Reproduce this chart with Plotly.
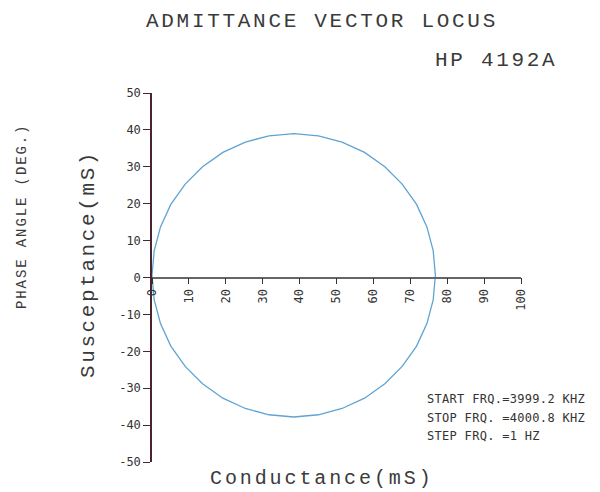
import plotly.graph_objects as go

# Admittance locus (mS)
conductance = [76.8, 76.2, 74.5, 71.7, 67.8, 63.1, 57.6, 51.5, 45.1, 38.4,
               31.7, 25.3, 19.2, 13.7, 9.0, 5.1, 2.3, 0.6, 0.0,
               0.6, 2.3, 5.1, 9.0, 13.7, 19.2, 25.3, 31.7, 38.4,
               45.1, 51.5, 57.6, 63.1, 67.8, 71.7, 74.5, 76.2, 76.8]
susceptance = [0.6, 7.3, 13.7, 19.8, 25.3, 30.0, 33.9, 36.7, 38.4, 39.0,
               38.4, 36.7, 33.9, 30.0, 25.3, 19.8, 13.7, 7.3, 0.6,
               -6.1, -12.5, -18.6, -24.1, -28.8, -32.7, -35.5, -37.2, -37.8,
               -37.2, -35.5, -32.7, -28.8, -24.1, -18.6, -12.5, -6.1, 0.6]
x_ticks = [0, 10, 20, 30, 40, 50, 60, 70, 80, 90, 100]
y_ticks = [-50, -40, -30, -20, -10, 0, 10, 20, 30, 40, 50]
info_lines = ["START FRQ.=3999.2 KHZ", "STOP FRQ. =4000.8 KHZ", "STEP FRQ. =1 HZ"]

mono = "DejaVu Sans Mono"
thin = "Liberation Mono"

L, T, W, H = 152, 93, 369, 369


def px(x):
    return (x - L) / W


def py(y):
    return (T + H - y) / H


def spaced(text, sp):
    return f'<span style="letter-spacing:{sp}px">{text}</span>'


fig = go.Figure()
fig.add_trace(go.Scatter(x=conductance, y=susceptance, mode="lines",
                         line=dict(color="#5fa3d3", width=1.3),
                         hoverinfo="skip", showlegend=False))

fig.update_layout(
    width=600, height=492,
    margin=dict(l=L, r=600 - L - W, t=T, b=492 - T - H),
    paper_bgcolor="white", plot_bgcolor="white",
    xaxis=dict(range=[0, 100], anchor="free", position=0.5,
               tickvals=x_ticks, ticktext=[str(v) for v in x_ticks],
               tickangle=-90, ticks="outside", ticklen=6, tickwidth=1.2,
               tickcolor="#333", showline=True, linecolor="#666", linewidth=1.5,
               showgrid=False, zeroline=False,
               tickfont=dict(family=mono, size=12, color="#333")),
    yaxis=dict(range=[-50, 50],
               tickvals=y_ticks, ticktext=[str(v) for v in y_ticks],
               ticks="outside", ticklen=7, tickwidth=1.2, tickcolor="#4a2530",
               showline=True, linecolor="#4a2530", linewidth=1.5,
               showgrid=False, zeroline=False,
               tickfont=dict(family=mono, size=12, color="#333")),
)

anns = [
    dict(text="ADMITTANCE VECTOR LOCUS", x=322, y=21, size=21, sp=2.7),
    dict(text="HP 4192A", x=496, y=60, size=21, sp=2.7),
    dict(text="Conductance(mS)", x=322, y=478, size=20, sp=2.9),
]
for a in anns:
    fig.add_annotation(text=spaced(a["text"], a["sp"]), xref="paper", yref="paper",
                       x=px(a["x"]), y=py(a["y"]), showarrow=False,
                       xanchor="center", yanchor="middle",
                       font=dict(family=thin, size=a["size"], color="#3a3a3a"))

fig.add_annotation(text=spaced("PHASE ANGLE (DEG.)", 1.9), xref="paper", yref="paper",
                   x=px(22), y=py(217), showarrow=False, textangle=-90,
                   xanchor="center", yanchor="middle",
                   font=dict(family=thin, size=14, color="#3a3a3a"))
fig.add_annotation(text=spaced("Susceptance(mS)", 2.6), xref="paper", yref="paper",
                   x=px(88), y=py(264), showarrow=False, textangle=-90,
                   xanchor="center", yanchor="middle",
                   font=dict(family=thin, size=21, color="#3a3a3a"))

for i, line in enumerate(info_lines):
    fig.add_annotation(text=spaced(line, 0.3), xref="paper", yref="paper",
                       x=px(425), y=py(399 + 18.5 * i), showarrow=False,
                       xanchor="left", yanchor="middle",
                       font=dict(family=mono, size=12, color="#333"))

fig.write_html("out.html")
